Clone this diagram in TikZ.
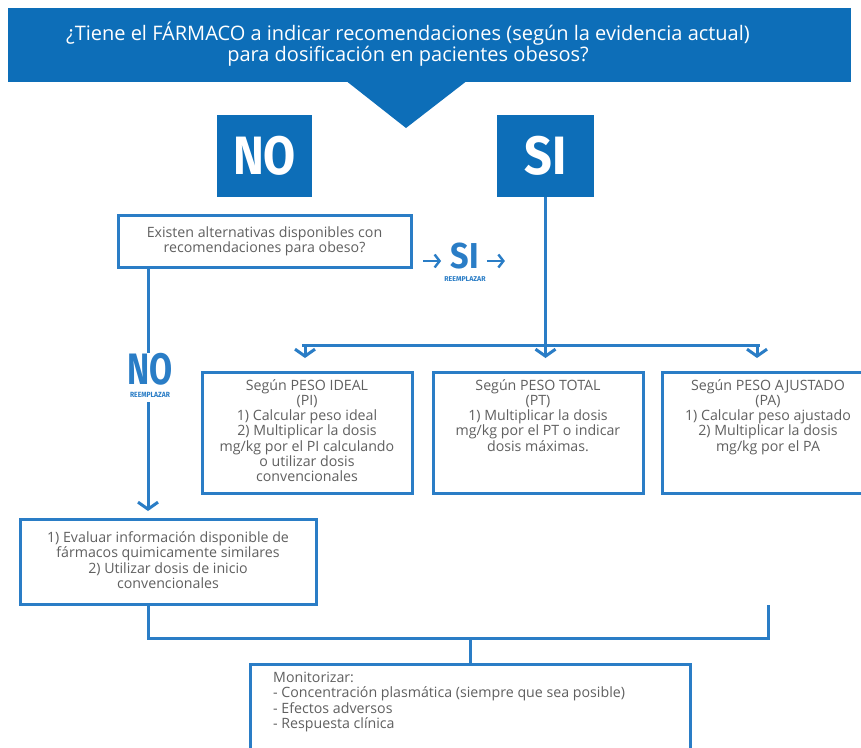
\documentclass[tikz,border=0pt]{standalone}
\usepackage{fontspec}
\setmainfont{Open Sans}
\newfontfamily\headf{Fira Sans}
\usetikzlibrary{arrows.meta}
\definecolor{mblue}{HTML}{0D6EB8}
\definecolor{lblue}{HTML}{2A7DC6}
\definecolor{tgray}{HTML}{606060}
\begin{document}
\begin{tikzpicture}[x=1pt,y=-1pt,
  box/.style={draw=lblue,line width=3pt,inner sep=0pt,outer sep=0pt},
  txt/.style={text=tgray,font=\fontsize{14.2}{15.3}\selectfont,align=center,inner sep=0pt},
  bigword/.style={text=white,font=\headf\bfseries\fontsize{54}{54}\selectfont,inner sep=0pt},
  conn/.style={draw=lblue,line width=3pt},
  >={Straight Barb[length=7pt,width=20pt]}]
\clip (0,0) rectangle (861,747);
\fill[white] (0,0) rectangle (861,747);
% banner
\node[fill=mblue,minimum width=843pt,minimum height=74pt,inner sep=0pt] (banner) at (429.5,45) {};
\fill[mblue] (345,80) -- (468,80) -- (406,128) -- cycle;
\node[text=white,font=\fontsize{20}{21.5}\selectfont,align=center,inner sep=0pt] (btxt) at (408,44)
  {¿Tiene el FÁRMACO a indicar recomendaciones (según la evidencia actual)\\para dosificación en pacientes obesos?};
% NO / SI
\node[fill=mblue,minimum width=95pt,minimum height=82pt,inner sep=0pt] (no) at (264.5,156) {};
\node[bigword] at (no) {\scalebox{0.86}[1]{NO}};
\node[fill=mblue,minimum width=97pt,minimum height=82pt,inner sep=0pt] (si) at (545.5,156) {};
\node[bigword] at (si) {\scalebox{0.9}[1]{SI}};
% question
\node[box,minimum width=293pt,minimum height=52pt] (q) at (264.5,241) {};
\node[txt] (qt) at (264.5,241) {Existen alternativas disponibles con\\recomendaciones para obeso?};
% SI reemplazar
\node[text=lblue,font=\headf\bfseries,inner sep=0pt] (si2) at (465,262)
  {\shortstack{\fontsize{36}{36}\selectfont\scalebox{0.9}[1]{SI}\\[4pt]\fontsize{7}{7}\selectfont REEMPLAZAR}};
\draw[conn,line width=2.4pt,->,>={Straight Barb[length=5pt,width=13pt]}] ([xshift=-21pt,yshift=1pt]si2.west) -- ([xshift=-3pt,yshift=1pt]si2.west);
\draw[conn,line width=2.4pt,->,>={Straight Barb[length=5pt,width=13pt]}] ([xshift=1pt,yshift=1pt]si2.east) -- ([xshift=19pt,yshift=1pt]si2.east);
% NO reemplazar label
\node[text=lblue,font=\headf\bfseries,inner sep=0pt] (no2) at (150,375)
  {\shortstack{\fontsize{44}{44}\selectfont\scalebox{0.76}[1]{NO}\\[4pt]\fontsize{7.5}{7.5}\selectfont\scalebox{0.9}[1]{REEMPLAZAR}}};
% three boxes
\node[box,minimum width=210pt,minimum height=121pt] (pi) at (307,432.5) {};
\node[txt,anchor=north] (pit) at (307,379) {Según PESO IDEAL\\(PI)\\1) Calcular peso ideal\\2) Multiplicar la dosis\\mg/kg por el PI calculando\\o utilizar dosis\\convencionales};
\node[box,minimum width=210pt,minimum height=121pt] (pt) at (538,432.5) {};
\node[txt,anchor=north] (ptt) at (538,379) {Según PESO TOTAL\\(PT)\\1) Multiplicar la dosis\\mg/kg por el PT o indicar\\dosis máximas.};
\node[box,minimum width=212pt,minimum height=121pt] (pa) at (768,432.5) {};
\node[txt,anchor=north] (pat) at (768,379) {Según PESO AJUSTADO\\(PA)\\1) Calcular peso ajustado\\2) Multiplicar la dosis\\mg/kg por el PA};
% evaluate box
\node[box,minimum width=296pt,minimum height=85pt] (ev) at (168,561.5) {};
\node[txt] (evt) at (168,560) {1) Evaluar información disponible de\\fármacos quimicamente similares\\2) Utilizar dosis de inicio\\convencionales};
% monitor box
\node[box,minimum width=440pt,minimum height=110pt] (mon) at (470,719) {};
\node[txt,align=left,anchor=north west] (mont) at (273,672) {Monitorizar:\\- Concentración plasmática (siempre que sea posible)\\- Efectos adversos\\- Respuesta clínica};
% connectors
\coordinate (hub) at (545.5,345);
\coordinate (hl) at (302,345);
\coordinate (hr) at (760,345);
\coordinate (lx) at ([xshift=30pt]q.south west);
\coordinate (lgap) at (148,353);
\coordinate (ltop) at (148,402);
\coordinate (lend) at ([xshift=128pt,yshift=8pt]ev.north west);
\draw[conn] (si.south) -- (hub);
\draw[conn] (hl) -- (hr);
\draw[conn,->] (305,345) -- (305,358);
\draw[conn,->] (hub) -- ([yshift=-13pt]hub);
\draw[conn,->] (757,345) -- (757,358);
\draw[conn] (lx) -- (lgap);
\draw[conn,->] (ltop) -- (lend);
\coordinate (bl) at (148,638);
\coordinate (br) at (768,605);
\coordinate (bc) at (470,638);
\draw[conn] ([xshift=128pt]ev.south west) -- (bl) -| (br);
\draw[conn] (bc) -- (mon.north);
\end{tikzpicture}
\end{document}
